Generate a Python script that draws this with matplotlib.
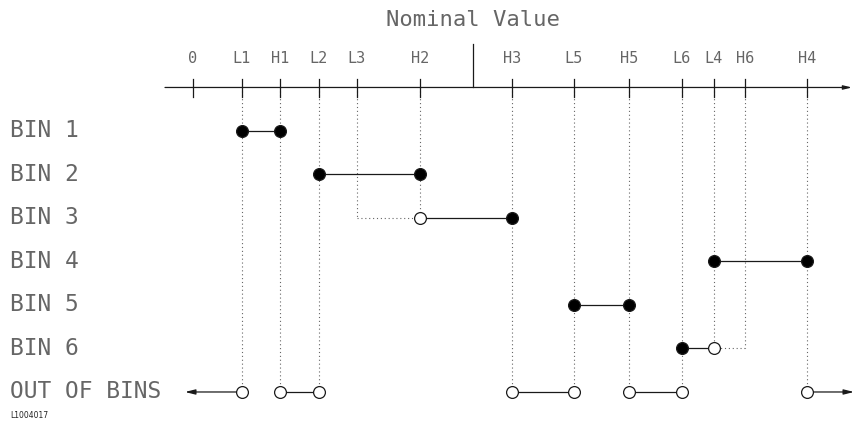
import numpy as np
import matplotlib
matplotlib.use("Agg")
import matplotlib.pyplot as plt

# limit names along the nominal value axis and their (relative) positions
tick_names = ['0', 'L1', 'H1', 'L2', 'L3', 'H2', 'H3', 'L5', 'H5', 'L6', 'L4', 'H6', 'H4']
tick_vals = [0, 49, 87, 126, 164, 227, 319, 381, 436, 489, 521, 552, 614]
nominal_mark = 280

row_labels = ['BIN 1', 'BIN 2', 'BIN 3', 'BIN 4', 'BIN 5', 'BIN 6', 'OUT OF BINS']

# segment drawn for each bin (after overlap with earlier bins)
seg_start = ['L1', 'L2', 'H2', 'L4', 'L5', 'L6']
seg_end = ['H1', 'H2', 'H3', 'H4', 'H5', 'L4']
start_filled = [True, True, False, True, True, True]
end_filled = [True, True, True, True, True, False]
# original limit that got overridden (shown dotted)
overridden = [None, None, 'L3', None, None, 'H6']

# out of bins ranges, None = open ended
out_start = [None, 'H1', 'H3', 'H5', 'H4']
out_end = ['L1', 'L2', 'L5', 'L6', None]

pos = dict(zip(tick_names, tick_vals))
INK = '#1a1a1a'
TXT = '#666666'
DOT = '#666666'
mono = 'DejaVu Sans Mono'

fig = plt.figure(figsize=(8.54, 4.22), dpi=100)
ax = fig.add_axes([0, 0, 1, 1])
ax.set_xlim(-193, 661)
ax.set_ylim(6.69, -3.011)
ax.axis('off')

axis_y = -1.0
out_row = len(row_labels) - 1

# lowest row each limit reaches -> vertical dotted guide
lowest = {}
for i in range(len(seg_start)):
    for n in (seg_start[i], seg_end[i], overridden[i]):
        if n is not None:
            lowest[n] = max(lowest.get(n, -1), i)
for a, b in zip(out_start, out_end):
    for n in (a, b):
        if n is not None:
            lowest[n] = out_row

for n, r in lowest.items():
    ax.plot([pos[n], pos[n]], [axis_y, r], color=DOT, lw=0.8,
            ls=(0, (1, 2.5)), zorder=1)

# nominal value axis
ax.annotate('', xy=(659, axis_y), xytext=(-28, axis_y),
            arrowprops=dict(arrowstyle='-|>,head_length=0.5,head_width=0.12',
                            color=INK, lw=0.9, shrinkA=0, shrinkB=0))
for n, v in zip(tick_names, tick_vals):
    ax.plot([v, v], [axis_y - 0.2, axis_y + 0.22], color=INK, lw=0.9)
    ax.text(v, -1.66, n, ha='center', va='center', fontsize=11,
            family=mono, color=TXT)
ax.plot([nominal_mark, nominal_mark], [-2.0, axis_y], color=INK, lw=0.9)
ax.text(nominal_mark, -2.55, 'Nominal Value', ha='center', va='center',
        fontsize=16, family=mono, color=TXT)

for i, lab in enumerate(row_labels):
    ax.text(-183, i, lab, ha='left', va='center', fontsize=16.5,
            family=mono, color=TXT)


def dot(x, y, filled):
    ax.plot([x], [y], 'o', ms=8.5, mec=INK, mew=0.9,
            mfc='black' if filled else 'white', zorder=4)


for i in range(len(seg_start)):
    x0, x1 = pos[seg_start[i]], pos[seg_end[i]]
    ax.plot([x0, x1], [i, i], color=INK, lw=0.9, zorder=2)
    if overridden[i] is not None:
        xo = pos[overridden[i]]
        near = x0 if abs(xo - x0) < abs(xo - x1) else x1
        ax.plot([xo, near], [i, i], color=DOT, lw=0.8, ls=(0, (1, 2.5)), zorder=1)
    dot(x0, i, start_filled[i])
    dot(x1, i, end_filled[i])

for a, b in zip(out_start, out_end):
    if a is None:
        ax.annotate('', xy=(-8, out_row), xytext=(pos[b], out_row),
                    arrowprops=dict(arrowstyle='-|>,head_length=0.6,head_width=0.15',
                                    color=INK, lw=0.9, shrinkA=0, shrinkB=0))
        dot(pos[b], out_row, False)
    elif b is None:
        ax.annotate('', xy=(661, out_row), xytext=(pos[a], out_row),
                    arrowprops=dict(arrowstyle='-|>,head_length=0.6,head_width=0.15',
                                    color=INK, lw=0.9, shrinkA=0, shrinkB=0))
        dot(pos[a], out_row, False)
    else:
        ax.plot([pos[a], pos[b]], [out_row, out_row], color=INK, lw=0.9, zorder=2)
        dot(pos[a], out_row, False)
        dot(pos[b], out_row, False)

ax.text(-183, 6.55, 'L1004017', ha='left', va='center', fontsize=5.5,
        family='DejaVu Sans', color='#222222')

fig.savefig('out.png', dpi=100)
